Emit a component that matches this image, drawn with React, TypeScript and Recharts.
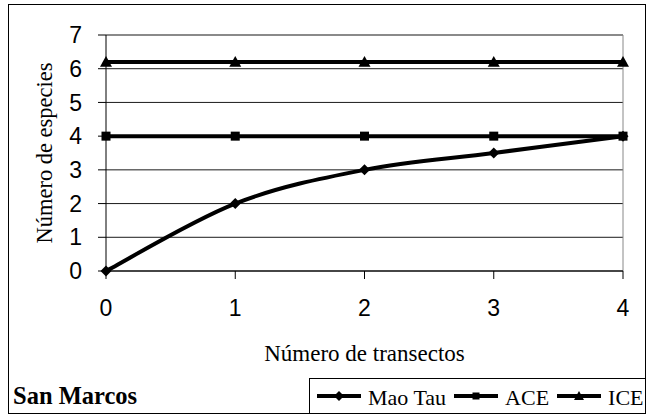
import React from "react";
import {
  LineChart,
  Line,
  XAxis,
  YAxis,
  CartesianGrid,
  Legend,
  ReferenceLine,
} from "recharts";

// transect counts on the x axis
const transects = [0, 1, 2, 3, 4];
const maoTau = [0, 2, 3, 3.5, 4];
const ace = [4, 4, 4, 4, 4];
const ice = [6.2, 6.2, 6.2, 6.2, 6.2];
const yTicks = [0, 1, 2, 3, 4, 5, 6, 7];
const seriesNames = ["Mao Tau", "ACE", "ICE"];

const data = transects.map((x, i) => ({
  x,
  maoTau: maoTau[i],
  ace: ace[i],
  ice: ice[i],
}));

const serif = "'Liberation Serif', 'Times New Roman', serif";
const sans = "'Liberation Sans', Arial, sans-serif";

// Excel-like smoothed line (Catmull-Rom through the points)
const smoothCurve = (context: any) => {
  let pts: number[][] = [];
  return {
    areaStart() {},
    areaEnd() {},
    lineStart() {
      pts = [];
    },
    point(x: number, y: number) {
      pts.push([x, y]);
    },
    lineEnd() {
      const n = pts.length;
      if (!n) return;
      context.moveTo(pts[0][0], pts[0][1]);
      for (let i = 0; i < n - 1; i++) {
        const p0 = pts[Math.max(i - 1, 0)];
        const p1 = pts[i];
        const p2 = pts[i + 1];
        const p3 = pts[Math.min(i + 2, n - 1)];
        context.bezierCurveTo(
          p1[0] + (p2[0] - p0[0]) / 6,
          p1[1] + (p2[1] - p0[1]) / 6,
          p2[0] - (p3[0] - p1[0]) / 6,
          p2[1] - (p3[1] - p1[1]) / 6,
          p2[0],
          p2[1]
        );
      }
    },
  };
};

const Diamond = ({ cx, cy, r = 5 }: any) => (
  <path
    d={`M${cx},${cy - r} L${cx + r},${cy} L${cx},${cy + r} L${cx - r},${cy} Z`}
    fill="#000"
  />
);

const Square = ({ cx, cy, r = 4 }: any) => (
  <rect x={cx - r} y={cy - r} width={r * 2} height={r * 2} fill="#000" />
);

const Triangle = ({ cx, cy, r = 5 }: any) => (
  <path
    d={`M${cx},${cy - r} L${cx + r},${cy + r * 0.8} L${cx - r},${cy + r * 0.8} Z`}
    fill="#000"
  />
);

const markers = [Diamond, Square, Triangle];

const LegendBox = () => (
  <div
    style={{
      width: 337,
      height: 36,
      boxSizing: "border-box",
      border: "1px solid #000",
      display: "flex",
      alignItems: "center",
      paddingLeft: 7,
      fontFamily: serif,
      fontSize: 22,
      color: "#000",
      whiteSpace: "nowrap",
    }}
  >
    {seriesNames.map((name, i) => {
      const Marker = markers[i];
      return (
        <div
          key={name}
          style={{ display: "flex", alignItems: "center", marginRight: 8 }}
        >
          <svg width={44} height={14} style={{ marginRight: 7 }}>
            <line x1={0} y1={7} x2={44} y2={7} stroke="#000" strokeWidth={4} />
            <Marker cx={22} cy={7} r={i === 1 ? 3.5 : 5} />
          </svg>
          <span style={{ lineHeight: "22px", marginTop: 3 }}>{name}</span>
        </div>
      );
    })}
  </div>
);

const YTitle = ({ viewBox }: any) => {
  const cy = viewBox.y + viewBox.height / 2;
  return (
    <text
      x={44}
      y={cy}
      transform={`rotate(-90, 44, ${cy})`}
      textAnchor="middle"
      dominantBaseline="central"
      fontFamily={serif}
      fontSize={22.5}
      fill="#000"
    >
      Número de especies
    </text>
  );
};

export default function App() {
  return (
    <div
      style={{
        position: "absolute",
        left: 0,
        top: 0,
        width: 649,
        height: 416,
        background: "#fff",
      }}
    >
      <div
        style={{
          position: "absolute",
          left: 8,
          top: 4,
          width: 638,
          height: 410,
          boxSizing: "border-box",
          border: "1px solid #000",
        }}
      />
      <div
        style={{
          position: "absolute",
          left: 13,
          top: 382,
          fontFamily: serif,
          fontWeight: "bold",
          fontSize: 24.5,
          color: "#000",
          lineHeight: "28px",
        }}
      >
        San Marcos
      </div>
      <LineChart
        width={649}
        height={416}
        data={data}
        margin={{ top: 35, right: 26, bottom: 55, left: 0 }}
        style={{ position: "absolute", left: 0, top: 0 }}
      >
        <CartesianGrid vertical={false} stroke="#000" strokeOpacity={0.9} />
        <XAxis
          dataKey="x"
          type="number"
          domain={[0, 4]}
          ticks={transects}
          height={90}
          stroke="#000"
          tickSize={8}
          tickMargin={21}
          tick={{ fontFamily: sans, fontSize: 23, fill: "#000" }}
          label={{
            value: "Número de transectos",
            position: "insideBottom",
            offset: 0,
            fontFamily: serif,
            fontSize: 23,
            fill: "#000",
          }}
        />
        <YAxis
          type="number"
          domain={[0, 7]}
          ticks={yTicks}
          width={106}
          stroke="#000"
          tickSize={8}
          tickMargin={16}
          interval={0}
          tick={{ fontFamily: sans, fontSize: 23, fill: "#000" }}
          label={<YTitle />}
        />
        <ReferenceLine y={7} stroke="#888" />
        <ReferenceLine x={4} stroke="#888" />
        <Legend
          verticalAlign="middle"
          align="center"
          content={() => <LegendBox />}
          wrapperStyle={{ left: 309, top: 378, width: 337, height: 36 }}
        />
        <Line
          type={smoothCurve as any}
          dataKey="maoTau"
          name={seriesNames[0]}
          stroke="#000"
          strokeWidth={4}
          dot={<Diamond r={5.5} />}
          isAnimationActive={false}
        />
        <Line
          type="linear"
          dataKey="ace"
          name={seriesNames[1]}
          stroke="#000"
          strokeWidth={4}
          dot={<Square r={4.5} />}
          isAnimationActive={false}
        />
        <Line
          type="linear"
          dataKey="ice"
          name={seriesNames[2]}
          stroke="#000"
          strokeWidth={4}
          dot={<Triangle r={6} />}
          isAnimationActive={false}
        />
      </LineChart>
    </div>
  );
}
